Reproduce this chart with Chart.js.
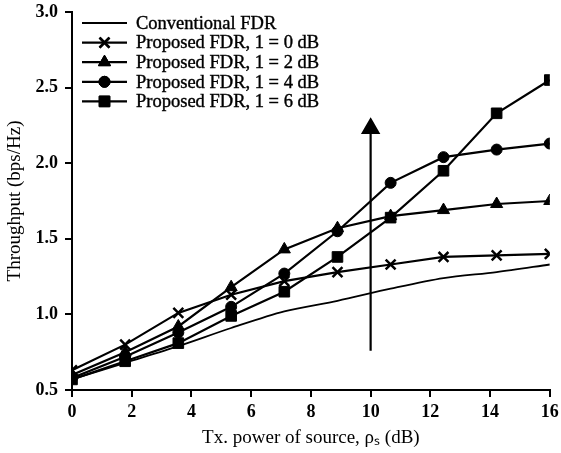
<!DOCTYPE html>
<html>
<head>
<meta charset="utf-8">
<script src="https://cdn.jsdelivr.net/npm/chart.js@4"></script>
<style>
  html, body { margin: 0; padding: 0; background: #fff; }
  #wrap { width: 561px; height: 453px; }
</style>
</head>
<body>
<div id="wrap"><canvas id="myChart" width="561" height="453"></canvas></div>
<script>
// data
const txPower = [0, 1.78, 3.56, 5.33, 7.11, 8.89, 10.67, 12.44, 14.22, 16];
const conventional = [0.57, 0.68, 0.79, 0.91, 1.02, 1.09, 1.17, 1.24, 1.28, 1.33];
const proposed0dB = [0.63, 0.80, 1.01, 1.13, 1.22, 1.28, 1.33, 1.38, 1.39, 1.40];
const proposed2dB = [0.60, 0.75, 0.92, 1.18, 1.43, 1.57, 1.65, 1.69, 1.73, 1.75];
const proposed4dB = [0.58, 0.72, 0.88, 1.05, 1.27, 1.55, 1.87, 2.04, 2.09, 2.13];
const proposed6dB = [0.57, 0.69, 0.81, 0.99, 1.15, 1.38, 1.64, 1.95, 2.33, 2.55];
const arrowX = [10, 10];
const arrowY = [0.76, 2.23];
const xTicks = [0, 2, 4, 6, 8, 10, 12, 14, 16];
const yTicks = [0.5, 1.0, 1.5, 2.0, 2.5, 3.0];

function pts(xs, ys) {
  return xs.map((x, i) => ({x: x, y: ys[i]}));
}

function series(label, values, style, radius, width) {
  return {
    label: label,
    data: pts(txPower, values),
    borderColor: '#000',
    backgroundColor: '#000',
    borderWidth: width || 2.2,
    pointStyle: style,
    pointRadius: radius,
    pointBorderWidth: style === 'crossRot' ? 2.5 : 1,
    pointBorderColor: '#000',
    pointBackgroundColor: '#000',
    tension: 0
  };
}

const conv = series('Conventional FDR', conventional, false, 0, 1.8);
conv.tension = 0.3;

const datasets = [
  conv,
  series('Proposed FDR, 1 = 0 dB', proposed0dB, 'crossRot', 7),
  series('Proposed FDR, 1 = 2 dB', proposed2dB, 'triangle', 7),
  series('Proposed FDR, 1 = 4 dB', proposed4dB, 'circle', 5.5),
  series('Proposed FDR, 1 = 6 dB', proposed6dB, 'rect', 7.5),
  {
    label: '',
    data: pts(arrowX, arrowY),
    borderColor: '#000',
    backgroundColor: '#000',
    borderWidth: 2.2,
    pointStyle: 'triangle',
    pointRadius: [0, 9],
    pointBackgroundColor: '#000',
    pointBorderColor: '#000'
  }
];

// legend drawn inside the plot, line sample with marker in the middle
const innerLegend = {
  id: 'innerLegend',
  afterDraw(chart) {
    const ctx = chart.ctx;
    ctx.save();
    ctx.font = '18.5px "Liberation Serif", "Times New Roman", serif';
    ctx.textBaseline = 'middle';
    ctx.fillStyle = '#000';
    let y = 23;
    chart.data.datasets.forEach(ds => {
      if (!ds.label) return;
      ctx.strokeStyle = '#000';
      ctx.lineWidth = ds.borderWidth;
      ctx.beginPath();
      ctx.moveTo(82, y);
      ctx.lineTo(127, y);
      ctx.stroke();
      if (ds.pointStyle) {
        ctx.fillStyle = '#000';
        ctx.lineWidth = ds.pointBorderWidth;
        Chart.helpers.drawPoint(ctx, {pointStyle: ds.pointStyle, radius: ds.pointRadius, rotation: 0, borderWidth: ds.pointBorderWidth}, 104.5, y);
        ctx.fill();
        ctx.stroke();
      }
      ctx.fillStyle = '#000';
      ctx.fillText(ds.label, 136, y + 1);
      ctx.lineWidth = 0.4;
      ctx.strokeText(ds.label, 136, y + 1);
      y += 19.6;
    });
    ctx.restore();
  }
};

const tickFont = {family: '"Liberation Serif", "Times New Roman", serif', size: 18, weight: 'bold'};
const titleFont = {family: '"Liberation Serif", "Times New Roman", serif', size: 19};

const config = {
  type: 'scatter',
  data: {datasets: datasets},
  options: {
    responsive: false,
    animation: false,
    showLine: true,
    layout: {padding: {top: 12, right: 8, left: 0, bottom: 0}},
    plugins: {
      legend: {display: false},
      tooltip: {enabled: false}
    },
    scales: {
      x: {
        type: 'linear',
        min: 0,
        max: 16,
        afterBuildTicks: s => { s.ticks = xTicks.map(v => ({value: v})); },
        afterFit: s => { s.height = 63; s.paddingRight = 0; s.paddingLeft = 0; },
        ticks: {color: '#000', font: tickFont, padding: 5},
        grid: {drawOnChartArea: false, drawTicks: true, tickLength: 7, color: '#000', lineWidth: 2},
        border: {display: true, color: '#000', width: 2},
        title: {display: true, text: 'Tx. power of source, ρₛ (dB)', color: '#000', font: titleFont, padding: {top: 0}}
      },
      y: {
        type: 'linear',
        min: 0.5,
        max: 3.0,
        afterBuildTicks: s => { s.ticks = yTicks.map(v => ({value: v})); },
        afterFit: s => { s.width = 72; s.paddingTop = 0; s.paddingBottom = 0; },
        ticks: {color: '#000', font: tickFont, padding: 7, callback: v => v.toFixed(1)},
        grid: {drawOnChartArea: false, drawTicks: true, tickLength: 7, color: '#000', lineWidth: 2},
        border: {display: true, color: '#000', width: 2},
        title: {display: true, text: 'Throughput (bps/Hz)', color: '#000', font: titleFont, padding: {bottom: 0}}
      }
    }
  },
  plugins: [innerLegend]
};

var myChart = new Chart(document.getElementById('myChart'), config);
</script>
</body>
</html>
